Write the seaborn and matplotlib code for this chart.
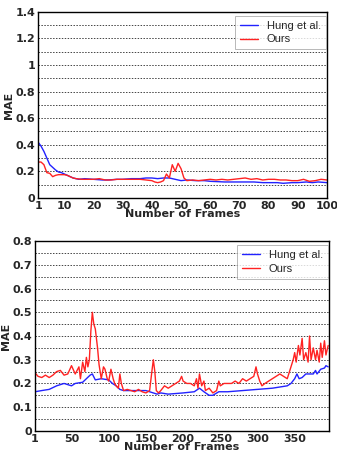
import numpy as np
import pandas as pd
import matplotlib
matplotlib.use("Agg")
import matplotlib.pyplot as plt
from matplotlib.ticker import MultipleLocator
import seaborn as sns

# top panel: 100 frames
top_hung_x = [1, 2, 3, 4, 5, 6, 7, 8, 9, 10, 11, 12, 13, 14, 15, 17, 20, 23, 25, 28, 30,
              33, 36, 38, 40, 42, 44, 46, 48, 50, 52, 55, 58, 60, 65, 70, 75, 78, 80, 83,
              85, 88, 90, 93, 95, 97, 100]
top_hung_y = [0.42, 0.39, 0.35, 0.30, 0.25, 0.23, 0.21, 0.195, 0.19, 0.18, 0.17, 0.16, 0.15,
              0.145, 0.14, 0.145, 0.14, 0.135, 0.135, 0.14, 0.14, 0.145, 0.145, 0.15, 0.15,
              0.145, 0.15, 0.15, 0.14, 0.13, 0.135, 0.13, 0.13, 0.125, 0.12, 0.12, 0.12,
              0.115, 0.115, 0.115, 0.11, 0.115, 0.115, 0.12, 0.115, 0.12, 0.115]
top_ours_x = [1, 2, 3, 4, 5, 6, 7, 8, 9, 10, 11, 12, 13, 14, 16, 18, 20, 22, 24, 26, 28, 30,
              32, 34, 36, 38, 40, 41, 42, 43, 44, 45, 46, 47, 48, 49, 50, 51, 52, 54, 56, 58,
              60, 62, 64, 66, 68, 70, 72, 74, 76, 78, 80, 82, 84, 86, 88, 90, 92, 94, 96, 98, 100]
top_ours_y = [0.27, 0.27, 0.25, 0.19, 0.185, 0.16, 0.17, 0.175, 0.175, 0.175, 0.17, 0.16, 0.15,
              0.145, 0.14, 0.14, 0.14, 0.145, 0.135, 0.135, 0.14, 0.14, 0.14, 0.14, 0.14, 0.135,
              0.13, 0.12, 0.115, 0.12, 0.13, 0.18, 0.15, 0.25, 0.20, 0.26, 0.22, 0.15, 0.13,
              0.135, 0.13, 0.135, 0.14, 0.135, 0.14, 0.135, 0.14, 0.145, 0.15, 0.14, 0.145,
              0.135, 0.14, 0.14, 0.135, 0.135, 0.13, 0.13, 0.14, 0.125, 0.13, 0.14, 0.135]

# bottom panel: ~395 frames
bot_hung_x = [1, 10, 20, 30, 40, 50, 55, 65, 70, 75, 78, 82, 90, 100, 105, 110, 115, 120, 140,
              150, 160, 165, 170, 180, 200, 215, 222, 228, 235, 240, 248, 260, 280, 300, 320,
              340, 345, 350, 353, 356, 360, 365, 370, 375, 378, 380, 385, 390, 392, 395]
bot_hung_y = [0.165, 0.17, 0.175, 0.19, 0.20, 0.19, 0.20, 0.205, 0.22, 0.235, 0.24, 0.215,
              0.22, 0.215, 0.20, 0.19, 0.175, 0.17, 0.17, 0.17, 0.16, 0.155, 0.16, 0.155, 0.16,
              0.165, 0.18, 0.165, 0.15, 0.15, 0.165, 0.165, 0.17, 0.175, 0.18, 0.19, 0.20,
              0.22, 0.24, 0.22, 0.225, 0.24, 0.24, 0.24, 0.255, 0.24, 0.26, 0.265, 0.275, 0.27]
bot_ours_x = [1, 5, 10, 15, 20, 25, 30, 35, 40, 45, 50, 55, 60, 62, 65, 68, 70, 72, 74, 76, 78,
              80, 82, 85, 87, 90, 93, 95, 98, 100, 103, 106, 108, 110, 113, 115, 117, 120, 125,
              130, 135, 140, 145, 150, 155, 158, 160, 162, 164, 167, 170, 175, 180, 185, 190,
              195, 198, 200, 205, 210, 215, 218, 220, 222, 225, 228, 230, 235, 240, 245, 248,
              250, 255, 260, 265, 270, 275, 280, 285, 290, 295, 298, 300, 303, 306, 310, 315,
              320, 325, 330, 335, 340, 343, 345, 348, 350, 352, 355, 357, 360, 362, 365, 368,
              370, 372, 375, 378, 380, 383, 385, 387, 390, 392, 395]
bot_ours_y = [0.245, 0.23, 0.225, 0.235, 0.225, 0.235, 0.25, 0.255, 0.235, 0.24, 0.275, 0.24,
              0.27, 0.22, 0.29, 0.25, 0.31, 0.27, 0.30, 0.42, 0.50, 0.45, 0.43, 0.35, 0.28, 0.22,
              0.27, 0.26, 0.22, 0.21, 0.26, 0.22, 0.20, 0.19, 0.18, 0.24, 0.20, 0.17, 0.175,
              0.17, 0.165, 0.175, 0.165, 0.16, 0.17, 0.25, 0.30, 0.25, 0.17, 0.16, 0.17, 0.19,
              0.18, 0.19, 0.20, 0.21, 0.23, 0.21, 0.20, 0.20, 0.19, 0.22, 0.18, 0.24, 0.19, 0.21,
              0.17, 0.18, 0.16, 0.17, 0.21, 0.19, 0.20, 0.20, 0.20, 0.21, 0.20, 0.22, 0.21, 0.22,
              0.23, 0.27, 0.24, 0.21, 0.19, 0.20, 0.21, 0.22, 0.23, 0.24, 0.23, 0.22, 0.25, 0.27,
              0.30, 0.33, 0.29, 0.36, 0.32, 0.39, 0.30, 0.33, 0.29, 0.40, 0.30, 0.35, 0.30, 0.34,
              0.29, 0.37, 0.31, 0.38, 0.32, 0.36]

sns.set_style("white")
plt.rcParams['font.family'] = ['DejaVu Sans']

fig = plt.figure(figsize=(3.37, 4.55), dpi=100)
ax1 = fig.add_axes([0.113, 0.565, 0.857, 0.409])
ax2 = fig.add_axes([0.104, 0.053, 0.872, 0.417])

def style(ax, xlim, ylim, ymaj, ymin, xticks, ylabels):
    ax.set_xlim(*xlim)
    ax.set_ylim(*ylim)
    ax.yaxis.set_minor_locator(MultipleLocator(ymin))
    ax.set_yticks(np.arange(0, ylim[1] + 1e-9, ymaj))
    ax.set_yticklabels(ylabels, fontsize=8, fontweight='bold')
    ax.set_xticks(xticks)
    ax.set_xticklabels([str(t) for t in xticks], fontsize=8, fontweight='bold')
    ax.grid(True, which='both', axis='y', color='#444444', linestyle=(0, (1.5, 1.5)), linewidth=0.7)
    ax.grid(False, axis='x')
    ax.tick_params(axis='both', which='both', direction='in', length=3, width=0.6)
    ax.tick_params(axis='x', pad=2)
    ax.tick_params(axis='y', pad=2)
    ax.tick_params(axis='y', which='minor', length=2)
    for s in ax.spines.values():
        s.set_color('black')
        s.set_linewidth(1.0)
    ax.set_ylabel('MAE', fontsize=8, fontweight='bold', labelpad=1)
    ax.set_xlabel('Number of Frames', fontsize=8, fontweight='bold', labelpad=-1)
    leg = ax.legend(loc='upper right', bbox_to_anchor=(0.996, 0.98),
                    prop={'family': 'Liberation Sans', 'size': 8}, frameon=True, fancybox=False,
                    borderpad=0.45, borderaxespad=0, handlelength=1.6, handletextpad=0.8,
                    labelspacing=0.35)
    leg.get_frame().set_edgecolor('#999999')
    leg.get_frame().set_linewidth(0.6)

sns.lineplot(x=top_hung_x, y=top_hung_y, ax=ax1, color='#2222ff', linewidth=1.0, label='Hung et al.')
sns.lineplot(x=top_ours_x, y=top_ours_y, ax=ax1, color='#ff2222', linewidth=1.0, label='Ours')
style(ax1, (1, 100), (0, 1.4), 0.2, 0.1, [1, 10, 20, 30, 40, 50, 60, 70, 80, 90, 100],
      ['0', '0.2', '0.4', '0.6', '0.8', '1', '1.2', '1.4'])

sns.lineplot(x=bot_hung_x, y=bot_hung_y, ax=ax2, color='#2222ff', linewidth=1.0, label='Hung et al.')
sns.lineplot(x=bot_ours_x, y=bot_ours_y, ax=ax2, color='#ff2222', linewidth=1.0, label='Ours')
style(ax2, (1, 396), (0, 0.8), 0.1, 0.05, [1, 50, 100, 150, 200, 250, 300, 350],
      ['0', '0.1', '0.2', '0.3', '0.4', '0.5', '0.6', '0.7', '0.8'])

fig.savefig('out.png', dpi=100)
